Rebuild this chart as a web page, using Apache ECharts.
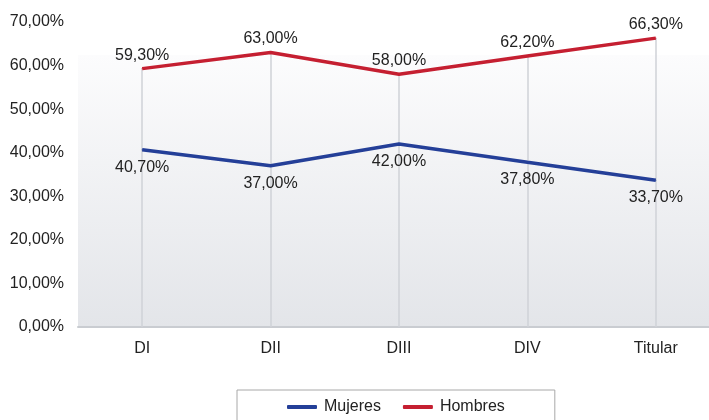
<!DOCTYPE html>
<html><head><meta charset="utf-8">
<script src="https://cdn.jsdelivr.net/npm/echarts@6/dist/echarts.min.js"></script>
<style>html,body{margin:0;padding:0;background:#fff}#c{width:709px;height:420px}</style>
</head><body><div id="c"></div>
<script>
const categories = ['DI','DII','DIII','DIV','Titular'];
const mujeres = [40.7, 37.0, 42.0, 37.8, 33.7];
const hombres = [59.3, 63.0, 58.0, 62.2, 66.3];
const yTicks = [0,10,20,30,40,50,60,70];

const fmt = v => v.toFixed(2).replace('.', ',') + '%';
const font = 'Liberation Sans, Arial, Helvetica, sans-serif';
const chart = echarts.init(document.getElementById('c'));
const dropLines = categories.map((c,i)=>[{coord:[c, Math.max(hombres[i],mujeres[i])]},{coord:[c,0]}]);
chart.setOption({
  animation:false,
  grid:{left:78, width:642, top:22, height:305, show:true, borderWidth:0, outerBoundsMode:'none', containLabel:false,
    backgroundColor:new echarts.graphic.LinearGradient(0,0,0,1,[
      {offset:0,color:'#ffffff'},{offset:0.107,color:'#ffffff'},{offset:0.108,color:'#fcfcfd'},{offset:1,color:'#e3e5e9'}])},
  legend:{left:237, top:390, padding:[9,50,30,50], borderColor:'#a8a8a8', borderWidth:1, itemGap:22,
    itemWidth:30, itemHeight:4, icon:'roundRect',
    textStyle:{fontFamily:font, fontSize:16, color:'#222', padding:[0,0,0,2]}, data:['Mujeres','Hombres']},
  xAxis:{type:'category', data:categories, boundaryGap:true,
    axisLine:{lineStyle:{color:'#c9ccd1', width:2}}, axisTick:{show:false},
    axisLabel:{fontFamily:font, fontSize:16, color:'#222', margin:14}, splitLine:{show:false}},
  yAxis:{type:'value', min:0, max:70, interval:10,
    axisLine:{show:false}, axisTick:{show:false}, splitLine:{show:false},
    axisLabel:{fontFamily:font, fontSize:16, color:'#222', margin:14, formatter:v=>yTicks.includes(v)?fmt(v):''}},
  series:[
    {name:'Mujeres', type:'line', data:mujeres, symbol:'circle', symbolSize:1, showSymbol:true,
     lineStyle:{width:3.5, color:'#243f98'}, itemStyle:{color:'#243f98'},
     label:{show:true, position:'bottom', distance:9, fontFamily:font, fontSize:16, color:'#222', formatter:p=>fmt(p.value)}, z:3},
    {name:'Hombres', type:'line', data:hombres, symbol:'circle', symbolSize:1, showSymbol:true,
     lineStyle:{width:3.5, color:'#c51f31'}, itemStyle:{color:'#c51f31'},
     label:{show:true, position:'top', distance:5, fontFamily:font, fontSize:16, color:'#222', formatter:p=>fmt(p.value)}, z:3,
     markLine:{silent:true, symbol:'none', label:{show:false}, lineStyle:{color:'#cfd2d7', width:1.5, type:'solid'}, data:dropLines, z:1}}
  ]
});
</script></body></html>
